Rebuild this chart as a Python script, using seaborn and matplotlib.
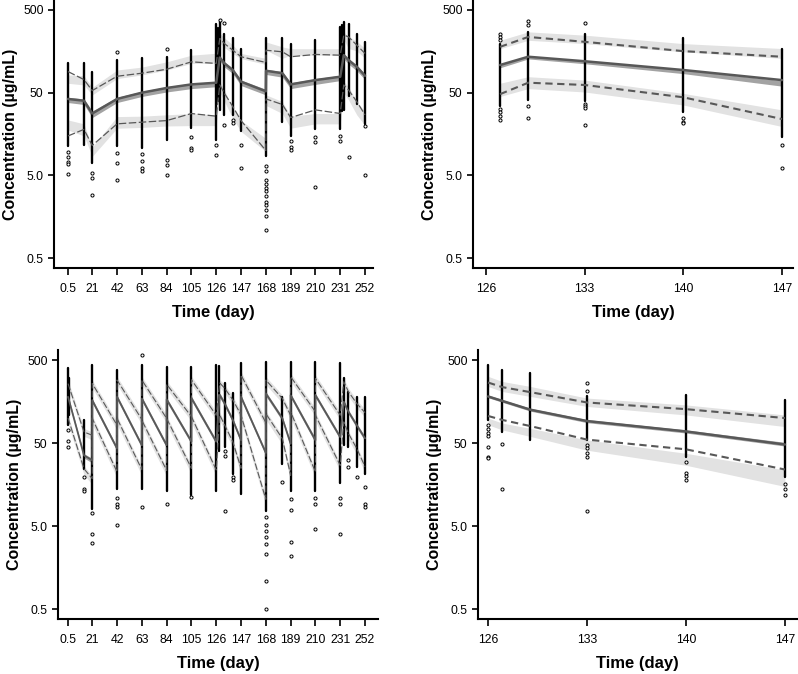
import matplotlib
matplotlib.use("Agg")
import matplotlib.pyplot as plt
from matplotlib.ticker import NullLocator, FixedLocator
import seaborn as sns
import pandas as pd

# ---------------- data ----------------
# top-left: full course, VPC percentiles (observed) and simulated CI bands
tl_t = [0.5, 14, 21, 42, 63, 84, 105, 126, 129, 133, 140, 147, 168, 168.2, 182, 189, 210, 231, 234, 238, 245, 252]
tl_p50 = [42, 40, 28, 42, 50, 57, 63, 66, 133, 113, 94, 68, 52, 92, 86, 63, 71, 78, 142, 124, 103, 80]
tl_p95 = [90, 72, 53, 79, 86, 96, 118, 113, 226, 196, 163, 136, 116, 163, 156, 136, 145, 142, 248, 237, 188, 149]
tl_p05 = [15, 18, 11.5, 21, 22, 23, 28, 26, 62, 49, 34, 23, 10, 42, 36, 25, 31, 28, 62, 54, 39, 27]
tl_b95_lo = [65, 62, 47, 74, 82, 94, 113, 113, 200, 175, 149, 129, 110, 163, 130, 142, 142, 142, 220, 171, 160, 130]
tl_b95_hi = [82, 80, 58, 94, 102, 118, 142, 150, 260, 230, 188, 149, 130, 205, 179, 170, 170, 170, 270, 237, 210, 170]
tl_b50_lo = [38, 36, 25, 38, 45, 51, 56, 59, 120, 102, 85, 61, 47, 83, 77, 56, 63, 70, 128, 111, 92, 72]
tl_b50_hi = [44, 42, 30, 44, 52, 59, 65, 68, 138, 118, 98, 71, 55, 96, 90, 66, 74, 81, 148, 129, 107, 84]
tl_b05_lo = [17.7, 15, 8.5, 18.6, 19, 19.8, 20, 20, 51, 39, 24.5, 17, 9.7, 35, 28, 18.6, 21, 21, 50, 41, 27, 20]
tl_b05_hi = [23.4, 21, 11, 25.7, 26, 27, 28, 27, 68, 54, 32, 23, 14, 47, 39, 26, 28, 28, 68, 59, 39, 29.5]
tl_obs_t = [0.5, 14, 21, 42, 63, 84, 105, 126, 127.5, 129, 133, 140, 147, 168, 182, 189, 210, 231, 232.5, 234, 238, 245, 252]
tl_obs_lo = [11.2, 11.5, 7.0, 11.2, 10.8, 13.5, 18.5, 13.5, 40, 31, 27, 27, 17, 8.6, 22, 15, 18, 18, 30, 31, 45, 36, 21]
tl_obs_hi = [113, 115, 90, 124, 130, 136, 163, 342, 300, 358, 259, 226, 170, 226, 226, 196, 216, 312, 330, 358, 342, 259, 205]
tl_out = [(0.5, 9.5), (0.5, 8.4), (0.5, 7.2), (0.5, 6.9), (0.5, 5.2),
          (21, 5.4), (21, 4.6), (21, 2.9),
          (42, 156), (42, 9.3), (42, 7.1), (42, 4.4),
          (63, 9.0), (63, 7.5), (63, 6.1), (63, 5.7),
          (84, 168), (84, 7.7), (84, 6.7), (84, 5.0),
          (105, 14.5), (105, 10.8), (105, 10.2),
          (126, 11.8), (126, 8.9), (129, 375), (133, 345), (133, 20.4),
          (140, 23.6), (140, 21.6), (147, 11.8), (147, 6.1),
          (168, 6.5), (168, 5.6), (168, 4.4), (168, 3.9), (168, 3.5), (168, 3.2),
          (168, 2.8), (168, 2.4), (168, 2.2), (168, 1.9), (168, 1.6), (168, 1.1),
          (189, 13), (189, 11), (189, 10.2),
          (210, 14.7), (210, 12.5), (210, 3.6),
          (231, 15), (231, 13), (238, 8.4), (252, 19.6), (252, 5.0)]

# top-right: day 126-147 window
tr_t = [127, 129, 133, 140, 147]
tr_p50 = [108, 136, 120, 94, 71]
tr_p95 = [179, 236, 206, 159, 136]
tr_p05 = [48, 66, 62, 44, 24]
tr_b95_lo = [170, 215, 196, 156, 130]
tr_b95_hi = [215, 272, 248, 196, 171]
tr_b50_lo = [100, 128, 112, 85, 60]
tr_b50_hi = [110, 138, 122, 94, 70]
tr_b05_lo = [45, 56, 51, 35.5, 19.5]
tr_b05_hi = [65, 78, 71, 49, 31]
tr_obs_t = [127, 129, 133, 140, 147]
tr_obs_lo = [35, 41, 39.6, 29.5, 14.7]
tr_obs_hi = [196, 272, 259, 226, 171]
tr_out = [(127, 259), (127, 235), (127, 215), (127, 32), (127, 29), (127, 26), (127, 23.5),
          (129, 368), (129, 327), (129, 34.5), (129, 24.5),
          (133, 352), (133, 37), (133, 35), (133, 33), (133, 20.4),
          (140, 24.5), (140, 22.4), (140, 21.5),
          (147, 11.8), (147, 6.1)]

# bottom-left: full course, sawtooth
bl_t = [0.5, 14, 21, 21, 42, 42, 63, 63, 84, 84, 105, 105, 126, 129, 133, 140, 147, 147,
        168, 168, 182, 189, 189, 210, 210, 231, 234, 238, 245, 252]
bl_p95 = [260, 68, 62, 261, 82, 287, 96, 287, 99, 255, 104, 289, 108, 264, 230, 166, 109, 330,
          88, 287, 172, 108, 315, 119, 300, 108, 274, 207, 150, 116]
bl_p50 = [180, 35.5, 31, 164, 43, 180, 47, 172, 47, 168, 52, 174, 52, 190, 151, 95, 54, 180,
          38, 198, 99, 49, 189, 54, 189, 59, 157, 119, 82, 57]
bl_p05 = [100, 24.5, 18.6, 99, 22.4, 99, 23.9, 94, 23.4, 99, 24.8, 104, 23.7, 109, 83, 52, 24.8, 108,
          10.5, 113, 56.5, 20.4, 119, 22.4, 108, 26.9, 90, 65, 43, 26]
bl_b95_lo = [229, 60, 55, 230, 72, 253, 84, 253, 87, 224, 92, 254, 95, 232, 202, 146, 96, 290,
             77, 253, 151, 95, 277, 105, 264, 95, 241, 182, 132, 102]
bl_b95_hi = [286, 75, 68, 287, 90, 316, 106, 316, 109, 281, 114, 318, 119, 290, 253, 183, 120, 363,
             97, 316, 189, 119, 347, 131, 330, 119, 301, 228, 165, 128]
bl_b50_lo = [167, 33, 28.8, 152, 40, 167, 43.7, 160, 43.7, 156, 48.4, 162, 48.4, 177, 140, 88, 50, 167,
             35.3, 184, 92, 45.6, 176, 50, 176, 55, 146, 111, 76, 53]
bl_b50_hi = [189, 37.3, 32.6, 172, 45, 189, 49.4, 181, 49.4, 176, 54.6, 183, 54.6, 200, 159, 100, 57, 189,
             40, 208, 104, 51.5, 198, 57, 198, 62, 165, 125, 86, 60]
bl_b05_lo = [85, 20.8, 15.8, 84, 19, 84, 20.3, 80, 19.9, 84, 21.1, 88, 20.1, 93, 70.5, 44.2, 21.1, 92,
             8.9, 96, 48, 17.3, 101, 19, 92, 22.9, 76.5, 55, 36.5, 22.1]
bl_b05_hi = [108, 26.5, 20.1, 107, 24.2, 107, 25.8, 101.5, 25.3, 107, 26.8, 112, 25.6, 118, 89.6, 56.2, 26.8, 117,
             11.3, 122, 61, 22, 128.5, 24.2, 117, 29, 97, 70, 46.4, 28.1]
bl_obs_t = [0.5, 1.5, 14, 21, 42, 63, 84, 105, 126, 128.5, 133, 140, 147, 168, 182, 189, 210, 231, 234, 238, 245, 252]
bl_obs_lo = [82, 110, 24.5, 8.1, 14, 14, 13.2, 12, 13.2, 40, 45, 21, 12.2, 7.7, 28, 13.2, 13.2, 16.6, 47, 45, 25.5, 21]
bl_obs_hi = [396, 300, 94, 435, 378, 435, 415, 415, 435, 420, 261, 198, 456, 477, 180, 477, 477, 456, 303, 207, 180, 180]
bl_out = [(0.5, 71), (0.5, 53), (0.5, 45),
          (14, 19.5), (14, 14), (14, 13.2),
          (21, 7.2), (21, 4.0), (21, 3.1),
          (42, 10.9), (42, 9.3), (42, 8.5), (42, 5.2),
          (63, 574), (63, 8.6), (84, 9.1), (105, 11.3),
          (133, 40), (133, 35), (133, 7.7), (140, 19.5), (140, 18),
          (168, 6.4), (168, 5.1), (168, 4.4), (168, 3.7), (168, 3.05), (168, 2.3), (168, 1.08), (168, 0.5),
          (182, 17), (189, 10.5), (189, 7.9), (189, 3.2), (189, 2.2),
          (210, 11), (210, 9.3), (210, 4.6), (231, 11), (231, 9.3), (231, 4.0),
          (238, 31), (238, 26), (245, 19.5), (252, 14.8), (252, 9.3), (252, 8.5)]

# bottom-right: day 126-147 window
br_t = [126, 127, 129, 133, 140, 147]
br_p50 = [182, 161, 126, 92, 69, 48]
br_p95 = [268, 236, 205, 154, 128, 100]
br_p05 = [106, 95, 80, 55, 42, 24]
br_b95_lo = [240, 209, 182, 138, 109, 79]
br_b95_hi = [318, 276, 240, 174, 144, 109]
br_b50_lo = [176, 155, 121, 88, 66, 46]
br_b50_hi = [190, 167, 131, 96, 72, 51]
br_b05_lo = [83, 72, 60, 41, 27, 15]
br_b05_hi = [100, 87, 75, 54.5, 37.6, 23.7]
br_obs_t = [126, 127, 129, 133, 140, 147]
br_obs_lo = [95, 68.7, 54.5, 54, 34.3, 19.6]
br_obs_hi = [440, 382, 348, 182, 190, 164]
br_out = [(126, 83), (126, 73), (126, 66), (126, 60), (126, 45), (126, 34), (126, 33),
          (127, 49), (127, 13.8),
          (133, 264), (133, 209), (133, 47), (133, 43), (133, 37.6), (133, 33.6), (133, 7.6),
          (140, 29.6), (140, 21.8), (140, 19.8), (140, 17.7),
          (147, 16.2), (147, 14), (147, 11.9)]

long_ticks = [0.5, 21, 42, 63, 84, 105, 126, 147, 168, 189, 210, 231, 252]
short_ticks = [126, 133, 140, 147]
y_ticks = [0.5, 5, 50, 500]
y_labels = ["0.5", "5.0", "50", "500"]

# ---------------- style ----------------
sns.set_theme(style="ticks")
plt.rcParams["font.family"] = ["Liberation Sans", "DejaVu Sans"]
plt.rcParams["axes.linewidth"] = 1.5
plt.rcParams["axes.labelcolor"] = "black"
plt.rcParams["text.color"] = "black"
plt.rcParams["xtick.color"] = "black"
plt.rcParams["ytick.color"] = "black"

LIGHT = "#e2e2e2"
DARK = "#a3a3a3"
LINE = "#585858"


def draw_panel(ax, t, p05, p50, p95, b05, b50, b95, obs_t, obs_lo, obs_hi, out,
               xlim, xticks, med_lw, dash_lw, dashes):
    ax.fill_between(t, b95[0], b95[1], color=LIGHT, lw=0, zorder=1)
    ax.fill_between(t, b05[0], b05[1], color=LIGHT, lw=0, zorder=1)
    ax.fill_between(t, b50[0], b50[1], color=DARK, lw=0, zorder=1)

    ax.vlines(obs_t, obs_lo, obs_hi, color="black", lw=1.7, capstyle="round", zorder=2)
    pts = pd.DataFrame(out, columns=["time", "conc"])
    sns.scatterplot(data=pts, x="time", y="conc", ax=ax, marker="o", s=5,
                    facecolor="white", edgecolor="black", linewidth=0.7, zorder=3)

    lines = pd.DataFrame({"time": t, "p05": p05, "p50": p50, "p95": p95})
    sns.lineplot(data=lines, x="time", y="p50", ax=ax, estimator=None, sort=False,
                 color=LINE, lw=med_lw, zorder=4)
    for col in ["p05", "p95"]:
        sns.lineplot(data=lines, x="time", y=col, ax=ax, estimator=None, sort=False,
                     color=LINE, lw=dash_lw, linestyle=(0, dashes), zorder=4)

    ax.set_yscale("log")
    ax.set_ylim(0.38, 660)
    ax.yaxis.set_major_locator(FixedLocator(y_ticks))
    ax.yaxis.set_minor_locator(NullLocator())
    ax.set_yticklabels(y_labels)
    ax.set_xlim(*xlim)
    ax.set_xticks(xticks)
    ax.set_xticklabels([("%g" % v) for v in xticks])
    ax.tick_params(axis="x", length=5, width=1.2, pad=6, labelsize=8.8)
    ax.tick_params(axis="y", length=4.5, width=1.2, pad=3, labelsize=8.8)
    ax.set_xlabel("Time (day)", fontsize=12, fontweight="bold", labelpad=7)
    ax.set_ylabel("Concentration (\u00b5g/mL)", fontsize=11.5, fontweight="bold", labelpad=4)
    sns.despine(ax=ax)
    for s in ["left", "bottom"]:
        ax.spines[s].set_color("black")


fig = plt.figure(figsize=(7.98, 6.74), dpi=100)
ax_tl = fig.add_axes([0.0677, 0.6024, 0.3998, 0.3976])
ax_tr = fig.add_axes([0.5927, 0.6024, 0.4010, 0.3976])
ax_bl = fig.add_axes([0.0727, 0.0816, 0.4010, 0.3991])
ax_br = fig.add_axes([0.5990, 0.0816, 0.3997, 0.3991])

draw_panel(ax_tl, tl_t, tl_p05, tl_p50, tl_p95,
           (tl_b05_lo, tl_b05_hi), (tl_b50_lo, tl_b50_hi), (tl_b95_lo, tl_b95_hi),
           tl_obs_t, tl_obs_lo, tl_obs_hi, tl_out, (-11.35, 258.8), long_ticks, 1.8, 0.9, (6, 2))
draw_panel(ax_tr, tr_t, tr_p05, tr_p50, tr_p95,
           (tr_b05_lo, tr_b05_hi), (tr_b50_lo, tr_b50_hi), (tr_b95_lo, tr_b95_hi),
           tr_obs_t, tr_obs_lo, tr_obs_hi, tr_out, (125.08, 147.78), short_ticks, 1.8, 1.5, (3.5, 2.2))
draw_panel(ax_bl, bl_t, bl_p05, bl_p50, bl_p95,
           (bl_b05_lo, bl_b05_hi), (bl_b50_lo, bl_b50_hi), (bl_b95_lo, bl_b95_hi),
           bl_obs_t, bl_obs_lo, bl_obs_hi, bl_out, (-8.0, 263), long_ticks, 1.3, 0.8, (6, 2))
draw_panel(ax_br, br_t, br_p05, br_p50, br_p95,
           (br_b05_lo, br_b05_hi), (br_b50_lo, br_b50_hi), (br_b95_lo, br_b95_hi),
           br_obs_t, br_obs_lo, br_obs_hi, br_out, (125.29, 147.85), short_ticks, 1.8, 1.5, (3.5, 2.2))

fig.savefig("out.png", dpi=100)
